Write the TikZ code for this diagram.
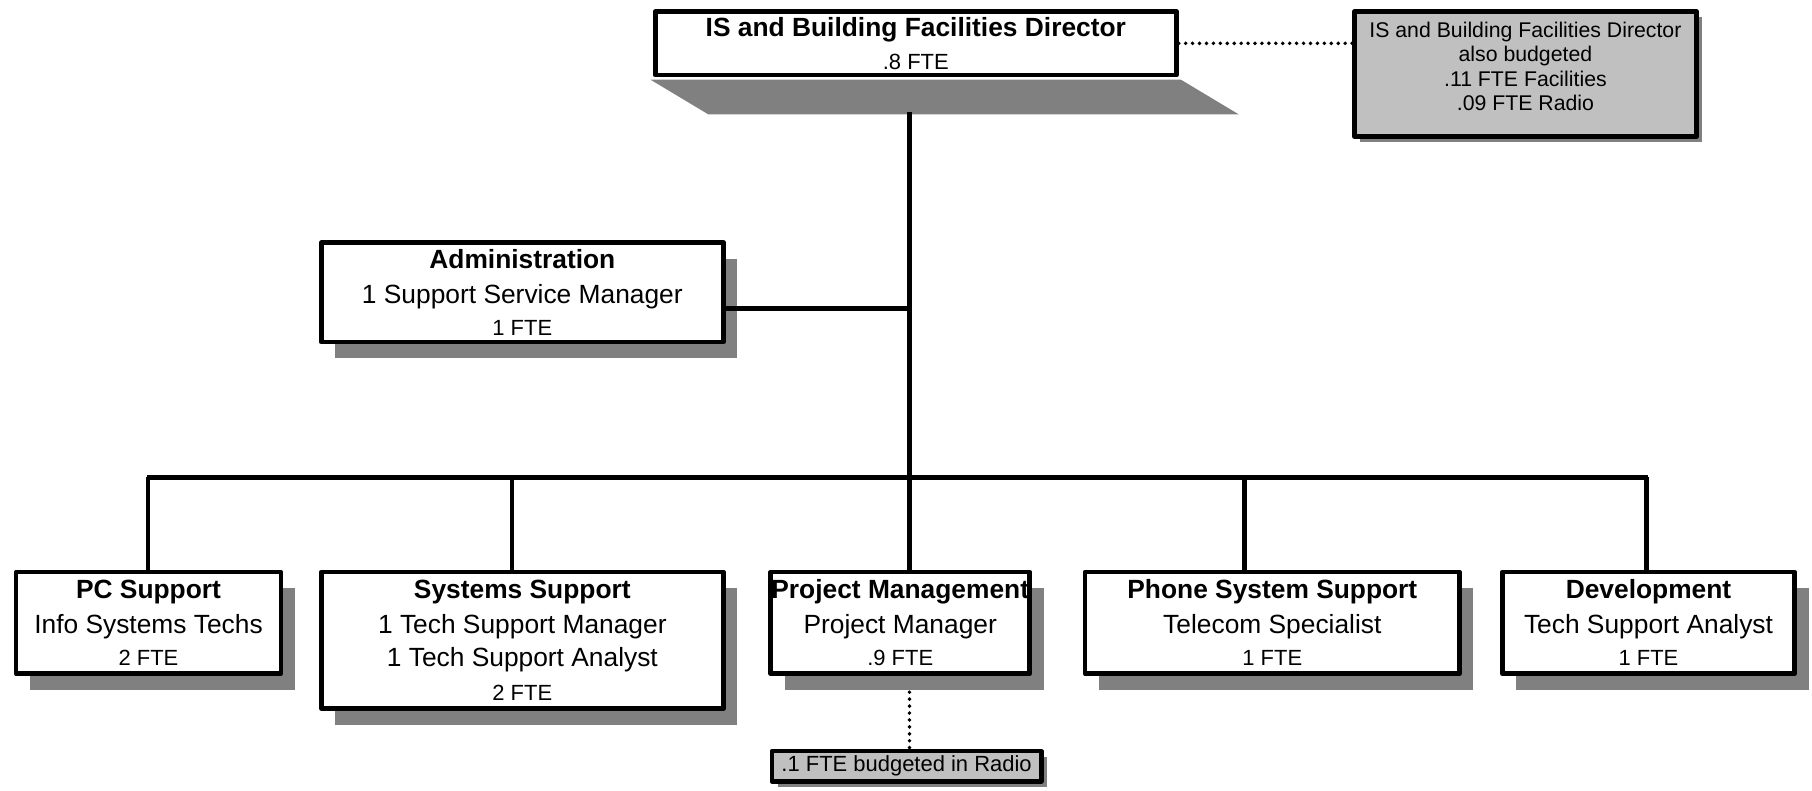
\documentclass[tikz,border=0pt]{standalone}
\usepackage{fontspec}
\setmainfont{Liberation Sans}
\usetikzlibrary{shadows,backgrounds}
\definecolor{shadowgray}{RGB}{128,128,128}
\definecolor{notegray}{RGB}{192,192,192}
\newcommand{\fte}{\fontsize{9.5}{11}\selectfont}
\tikzset{
	box/.style={draw, line width=2pt, fill=white, align=center, inner sep=0pt,
		font=\fontsize{11.4}{15}\selectfont},
	shadowed/.style={drop shadow={shadow xshift=6pt, shadow yshift=-7pt, fill=shadowgray, opacity=1}},
	notebox/.style={draw, line width=2pt, fill=notegray, inner sep=0pt,
		drop shadow={shadow xshift=2.5pt, shadow yshift=-2.5pt, fill=shadowgray, opacity=1}},
	notetext/.style={align=center, inner sep=0pt, font=\fontsize{9.2}{10.5}\selectfont},
	conn/.style={line width=2pt},
	link/.style={line width=1.7pt, line cap=round, dash pattern=on 0pt off 3pt}
}
\begin{document}
\begin{tikzpicture}[x=0.5pt, y=-0.5pt, line join=round]
	\useasboundingbox (0,0) rectangle (1568,684);
	%Director and note
	\node[box, minimum width=225.5pt, minimum height=27.5pt] (dir) at (792.5,37.5)
		{\textbf{IS and Building Facilities Director}\\[-0.5pt]{\fte .8 FTE}};
	\node[notebox, minimum width=148pt, minimum height=54pt] (note) at (1320,64) {};
	\node[notetext] (notetxt) at (1320,57.5)
		{IS and Building Facilities Director\\also budgeted\\.11 FTE Facilities\\.09 FTE Radio};
	%Administration
	\node[box, shadowed, minimum width=174pt, minimum height=43pt] (admin) at (452,253)
		{\textbf{Administration}\\1 Support Service Manager\\[-1pt]{\fte 1 FTE}};
	%Bottom row
	\node[box, shadowed, minimum width=114.5pt, minimum height=44pt] (pc) at (128.5,539)
		{\textbf{PC Support}\\Info Systems Techs\\[-1pt]{\fte 2 FTE}};
	\node[box, shadowed, minimum width=174pt, minimum height=59pt] (sys) at (452,554)
		{\textbf{Systems Support}\\1 Tech Support Manager\\[-0.5pt]1 Tech Support Analyst\\[-0.5pt]{\fte 2 FTE}};
	\node[box, shadowed, minimum width=112pt, minimum height=44pt] (pm) at (779,539)
		{\textbf{Project Management}\\Project Manager\\[-1pt]{\fte .9 FTE}};
	\node[box, shadowed, minimum width=162pt, minimum height=44pt] (phone) at (1101,539)
		{\textbf{Phone System Support}\\Telecom Specialist\\[-1pt]{\fte 1 FTE}};
	\node[box, shadowed, minimum width=126.5pt, minimum height=44pt] (dev) at (1426.5,539)
		{\textbf{Development}\\Tech Support Analyst\\[-1pt]{\fte 1 FTE}};
	\node[notebox, notetext, font=\fte, minimum width=116.5pt, minimum height=13pt] (radio) at (784.5,663)
		{.1 FTE budgeted in Radio};
	%Director shadow
	\begin{scope}[on background layer]
		\fill[shadowgray] ([shift={(-1pt,-1pt)}]dir.south west) -- ([shift={(1pt,-1pt)}]dir.south east)
			-- ++(25pt,-15pt) -- ([shift={(24pt,-16pt)}]dir.south west) -- cycle;
	\end{scope}
	%Connectors
	\coordinate (trunk) at (787,413);
	\coordinate (barL) at (127,413);
	\coordinate (barR) at (1426,413);
	\coordinate (dirlow) at ([yshift=-15pt]dir.south);
	\coordinate (adminout) at ([yshift=-7pt]admin.east);
	\coordinate (pmlow) at ([yshift=-7pt]pm.south);
	\draw[conn] (dirlow -| trunk) -- (trunk);
	\draw[conn] (adminout) -- (adminout -| trunk);
	\draw[conn] (barL) -- (barR);
	\foreach \n/\x in {pc/128,sys/443,pm/787,phone/1077,dev/1425}
		\draw[conn] (\x,413) -- (\n.north -| {\x,413});
	\draw[link] (dir.east) -- (dir.east -| note.west);
	\draw[link] (pmlow -| trunk) -- (radio.north -| trunk);
\end{tikzpicture}
\end{document}
